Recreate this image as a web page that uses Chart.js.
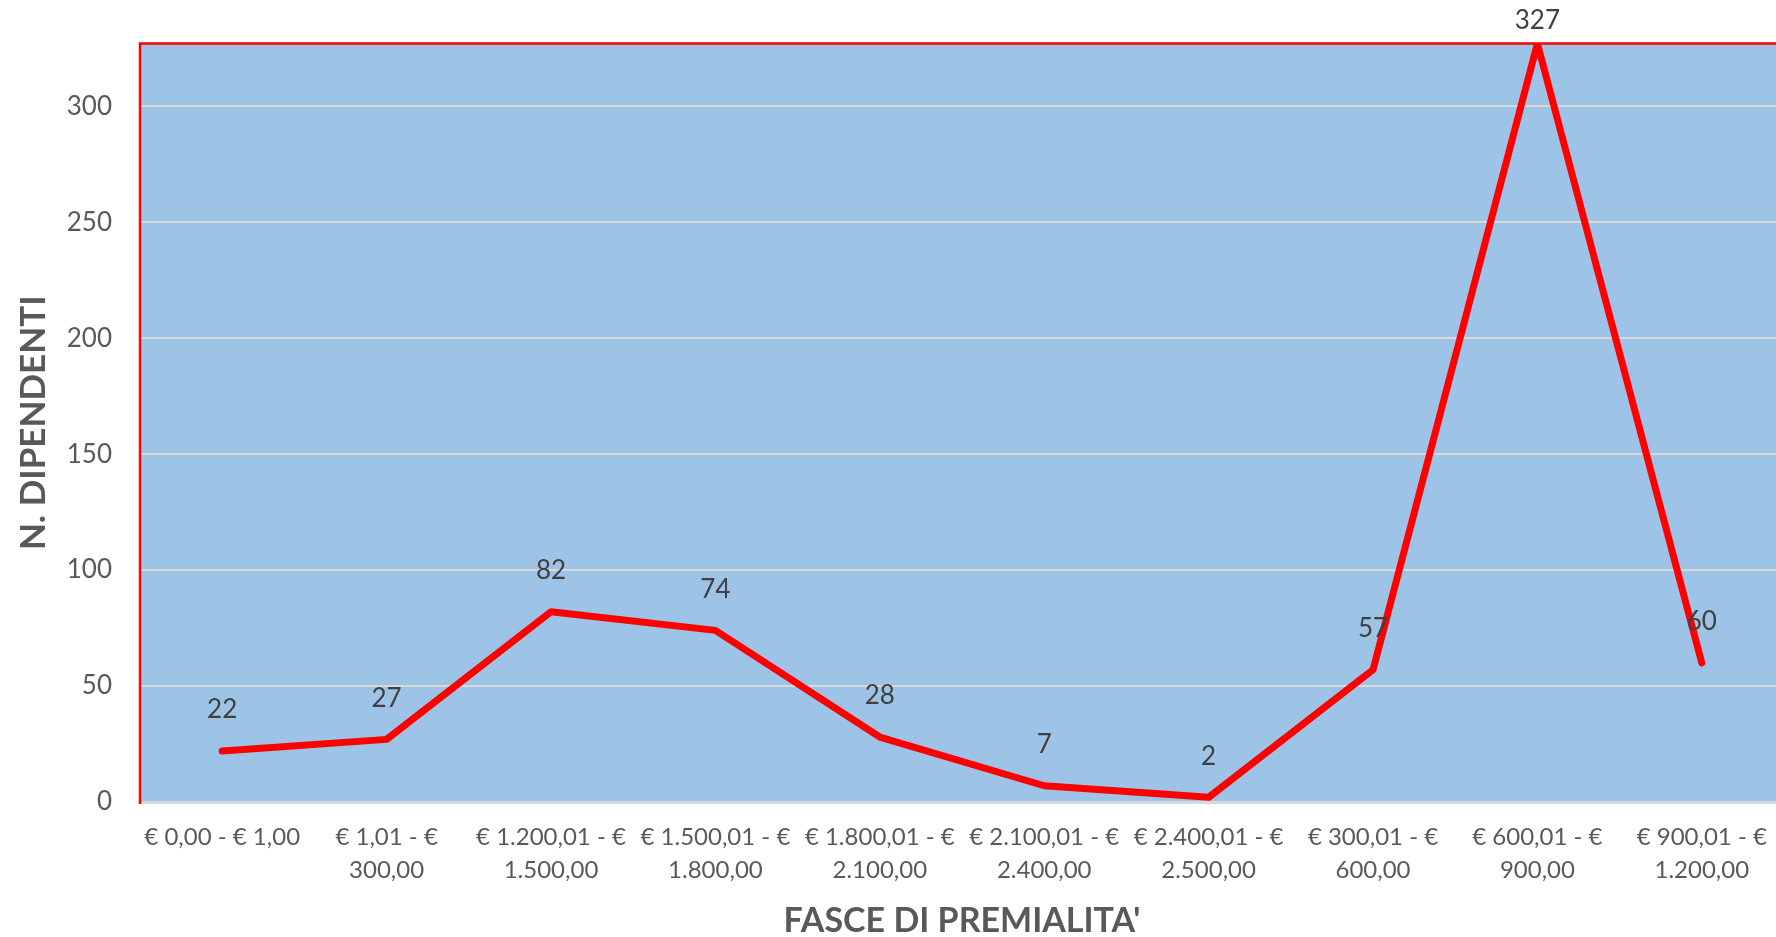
<!DOCTYPE html>
<html lang="it">
<head>
<meta charset="utf-8">
<title>Fasce di premialità</title>
<script src="https://cdn.jsdelivr.net/npm/chart.js@4.4.1/dist/chart.umd.min.js"></script>
<style>
    html, body { margin: 0; padding: 0; background: #fff; overflow: hidden; }
    #wrap { width: 1800px; height: 937px; }
</style>
</head>
<body>
<div id="wrap"><canvas id="premiChart" width="1800" height="937"></canvas></div>
<script>
    // fasce di premialità (etichette asse x, su due righe)
    const fasce = [
        '€ 0,00 - € 1,00',
        ['€ 1,01 - €', '300,00'],
        ['€ 1.200,01 - €', '1.500,00'],
        ['€ 1.500,01 - €', '1.800,00'],
        ['€ 1.800,01 - €', '2.100,00'],
        ['€ 2.100,01 - €', '2.400,00'],
        ['€ 2.400,01 - €', '2.500,00'],
        ['€ 300,01 - €', '600,00'],
        ['€ 600,01 - €', '900,00'],
        ['€ 900,01 - €', '1.200,00'],
    ];
    const dipendenti = [22, 27, 82, 74, 28, 7, 2, 57, 327, 60];
    const yTicks = [0, 50, 100, 150, 200, 250, 300];
    const yMax = 327;

    const plotBg = {
        id: 'plotBg',
        beforeDraw(chart) {
            const { ctx, chartArea: a } = chart;
            ctx.save();
            ctx.fillStyle = '#9dc3e6';
            ctx.fillRect(a.left, a.top, a.right - a.left, a.bottom - a.top);
            ctx.restore();
        },
        beforeDatasetsDraw(chart) {
            const { ctx, chartArea: a } = chart;
            ctx.save();
            ctx.strokeStyle = '#ff0000';
            ctx.lineWidth = 2.5;
            ctx.beginPath();
            ctx.moveTo(a.left, a.bottom + 2);
            ctx.lineTo(a.left, a.top);
            ctx.lineTo(a.right, a.top);
            ctx.lineTo(a.right, a.bottom);
            ctx.stroke();
            ctx.restore();
        },
    };

    const valueLabels = {
        id: 'valueLabels',
        afterDatasetsDraw(chart) {
            const { ctx } = chart;
            const meta = chart.getDatasetMeta(0);
            ctx.save();
            ctx.font = '26px Lato';
            ctx.fillStyle = '#404040';
            ctx.textAlign = 'center';
            ctx.textBaseline = 'middle';
            meta.data.forEach((pt, i) => {
                const y = Math.max(pt.y - 41, 21);
                ctx.fillText(String(dipendenti[i]), pt.x, y);
            });
            ctx.restore();
        },
    };

    new Chart(document.getElementById('premiChart'), {
        type: 'line',
        data: {
            labels: fasce,
            datasets: [
                {
                    label: 'N. dipendenti',
                    data: dipendenti,
                    borderColor: '#ff0000',
                    borderWidth: 7,
                    borderCapStyle: 'round',
                    borderJoinStyle: 'round',
                    pointRadius: 0,
                    tension: 0,
                    fill: false,
                },
            ],
        },
        options: {
            responsive: false,
            animation: false,
            layout: { autoPadding: false, padding: { top: 41, right: 16, left: 0, bottom: 0 } },
            plugins: {
                legend: { display: false },
                tooltip: { enabled: false },
            },
            scales: {
                x: {
                    offset: true,
                    grid: { display: false, drawTicks: false },
                    border: { display: false },
                    ticks: {
                        color: '#595959',
                        font: { family: 'Lato', size: 24, lineHeight: 1.4 },
                        padding: 18,
                        maxRotation: 0,
                        autoSkip: false,
                    },
                    title: {
                        display: true,
                        text: "FASCE DI PREMIALITA'",
                        color: '#595959',
                        font: { family: 'Lato', size: 34, weight: 'bold', lineHeight: 0.95 },
                        padding: { top: 0, bottom: 0 },
                    },
                    afterFit(scale) { scale.height = 135; },
                },
                y: {
                    min: 0,
                    max: yMax,
                    afterBuildTicks(scale) {
                        scale.ticks = yTicks.map((v) => ({ value: v }));
                    },
                    grid: {
                        color: '#d9d9d9',
                        lineWidth: (c) => (c.tick && c.tick.value === 0 ? 3 : 2),
                        drawTicks: false,
                    },
                    border: { display: false },
                    ticks: {
                        color: '#595959',
                        font: { family: 'Lato', size: 26 },
                        padding: 28,
                    },
                    title: {
                        display: true,
                        text: 'N. DIPENDENTI',
                        color: '#595959',
                        font: { family: 'Lato', size: 35, weight: 'bold', lineHeight: 1.2 },
                        padding: { top: 13, bottom: 0 },
                    },
                    afterFit(scale) { scale.width = 140; },
                },
            },
        },
        plugins: [plotBg, valueLabels],
    });
</script>
</body>
</html>
